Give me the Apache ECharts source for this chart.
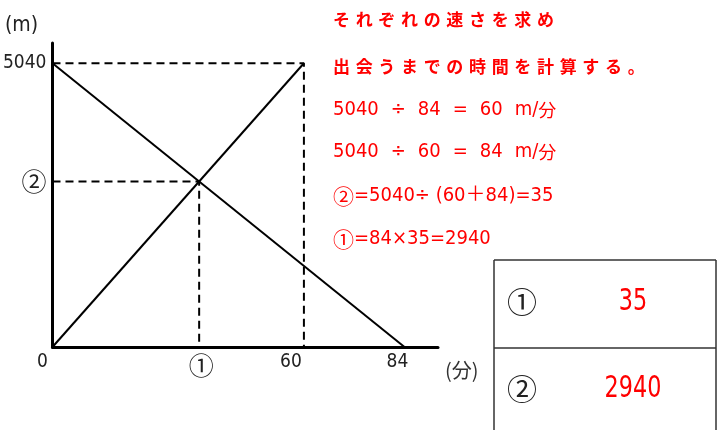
<!DOCTYPE html>
<html>
<head>
<meta charset="utf-8">
<script src="https://cdn.jsdelivr.net/npm/echarts@6/dist/echarts.min.js"></script>
<style>
html,body{margin:0;padding:0;background:#fff;}
#main{width:720px;height:430px;}
</style>
</head>
<body>
<div id="main"></div>
<script>
// ---- data ----
var lineDown = [[0, 5040], [84, 0]];
var lineUp = [[0, 0], [60, 5040]];
var dashTop = [[0, 5040], [60, 5040], [60, 0]];
var dashMeet = [[0, 2940], [35, 2940], [35, 0]];
var xTickValues = [0, 35, 60, 84];
var xTickLabels = ['0', '①', '60', '84'];
var yTickValues = [2940, 5040];
var yTickLabels = ['②', '5040'];
var noteLines = [
  'それぞれの速さを求め',
  '出会うまでの時間を計算する。',
  '5040\u2002\u2006÷\u2002\u200684\u2002\u2006=\u2002\u200660\u2002\u2006m/分',
  '5040\u2002\u2006÷\u2002\u200660\u2002\u2006=\u2002\u200684\u2002\u2006m/分',
  '②=5040÷ (60＋84)=35',
  '①=84×35=2940'
];
var tableLabels = ['①', '②'];
var tableAnswers = ['35', '2940'];

// ---- styling helpers ----
var numFont = '"DejaVu Sans Condensed","DejaVu Sans","Noto Sans CJK JP",sans-serif';
var jpFont = '"Noto Sans CJK JP",sans-serif';
var circled = /[①②]/;
function spaced(s) { return s.split('').join('\u2004'); }
function richMixed(s) {
  return s.split(/([①②分])/).filter(function (p) { return p.length; }).map(function (p) {
    if (circled.test(p)) return '{c|' + p + '}';
    if (p === '分') return '{k|' + p + '}';
    return '{n|' + p + '}';
  }).join('');
}

var chart = echarts.init(document.getElementById('main'), null, {renderer: 'canvas'});

var xShift = {0: [0, 20, 0, 0], 35: [0, 0, 0, 4], 60: [0, 26, 0, 0], 84: [0, 14, 0, 0]};
var xRich = {};
xTickValues.forEach(function (v, i) {
  var isC = circled.test(xTickLabels[i]);
  xRich['t' + i] = {
    fontFamily: isC ? jpFont : numFont, fontSize: isC ? 25 : 19, color: '#222',
    padding: xShift[v]
  };
});

var noteY = [20, 67, 110, 152, 196, 239];
var graphics = [];
noteLines.forEach(function (t, i) {
  var style;
  if (i < 2) {
    style = {text: spaced(t), fill: '#ff0000', font: 'bold 17px ' + jpFont};
  } else {
    style = {
      text: richMixed(t), fill: '#ff0000',
      rich: {
        c: {fontFamily: jpFont, fontSize: 21, fill: '#ff0000', verticalAlign: 'middle'},
        k: {fontFamily: jpFont, fontSize: 18, fill: '#ff0000', verticalAlign: 'middle'},
        n: {fontFamily: numFont, fontSize: 20, fill: '#ff0000', verticalAlign: 'middle'}
      }
    };
  }
  style.textVerticalAlign = 'middle';
  graphics.push({type: 'text', x: 333, y: noteY[i], style: style});
});
// table frame
var tb = {x0: 494, x1: 716, y0: 260, ym: 348, y1: 431};
var lineStyle = {stroke: '#333', lineWidth: 1.5};
graphics.push({type: 'line', shape: {x1: tb.x0, y1: tb.y0, x2: tb.x1, y2: tb.y0}, style: lineStyle});
graphics.push({type: 'line', shape: {x1: tb.x0, y1: tb.ym, x2: tb.x1, y2: tb.ym}, style: lineStyle});
graphics.push({type: 'line', shape: {x1: tb.x0, y1: tb.y0, x2: tb.x0, y2: tb.y1}, style: lineStyle});
graphics.push({type: 'line', shape: {x1: tb.x1, y1: tb.y0, x2: tb.x1, y2: tb.y1}, style: lineStyle});
var rowY = [302, 389];
tableLabels.forEach(function (l, i) {
  graphics.push({
    type: 'text', x: 522, y: rowY[i],
    style: {text: l, fill: '#222', font: '30px ' + jpFont, textAlign: 'center', textVerticalAlign: 'middle'}
  });
  graphics.push({
    type: 'text', x: 633, y: rowY[i], scaleX: 0.8,
    style: {text: tableAnswers[i], fill: '#ff0000', font: '31px "DejaVu Sans Condensed",sans-serif', textAlign: 'center', textVerticalAlign: 'middle'}
  });
});
// axis units
graphics.push({
  type: 'text', x: 445, y: 370,
  style: {text: '(分)', fill: '#333', font: '20px ' + jpFont, textVerticalAlign: 'middle'}
});
graphics.push({
  type: 'text', x: 5, y: 26,
  style: {text: '(m)', fill: '#222', font: '21px ' + numFont, textVerticalAlign: 'middle'}
});

var option = {
  backgroundColor: '#fff',
  animation: false,
  grid: {left: 50, top: 43, right: 282, bottom: 83},
  xAxis: {
    type: 'value', min: 0, max: 92,
    axisLine: {show: true, onZero: false, lineStyle: {color: '#000', width: 3}},
    axisTick: {show: false},
    splitLine: {show: false},
    axisLabel: {
      customValues: xTickValues, margin: 6,
      formatter: function (v) {
        var i = xTickValues.indexOf(v);
        return i < 0 ? '' : '{t' + i + '|' + xTickLabels[i] + '}';
      },
      rich: xRich
    }
  },
  yAxis: {
    type: 'value', min: 0, max: 5400,
    axisLine: {show: true, onZero: false, lineStyle: {color: '#000', width: 3}},
    axisTick: {show: false},
    splitLine: {show: false},
    axisLabel: {
      customValues: yTickValues, margin: 6,
      formatter: function (v) {
        var i = yTickValues.indexOf(v);
        return i < 0 ? '' : (circled.test(yTickLabels[i]) ? '{c|' : '{n|') + yTickLabels[i] + '}';
      },
      rich: {
        c: {fontFamily: jpFont, fontSize: 25, color: '#222'},
        n: {fontFamily: numFont, fontSize: 19, color: '#222'}
      }
    }
  },
  series: [
    {type: 'line', data: dashTop, symbol: 'none', silent: true,
     lineStyle: {color: '#000', width: 2, type: [8, 5]}, z: 1},
    {type: 'line', data: dashMeet, symbol: 'none', silent: true,
     lineStyle: {color: '#000', width: 2, type: [8, 5]}, z: 1},
    {type: 'line', data: lineDown, symbol: 'none', silent: true,
     lineStyle: {color: '#000', width: 2}, z: 2},
    {type: 'line', data: lineUp, symbol: 'none', silent: true,
     lineStyle: {color: '#000', width: 2}, z: 2}
  ],
  graphic: graphics
};
chart.setOption(option);
</script>
</body>
</html>
